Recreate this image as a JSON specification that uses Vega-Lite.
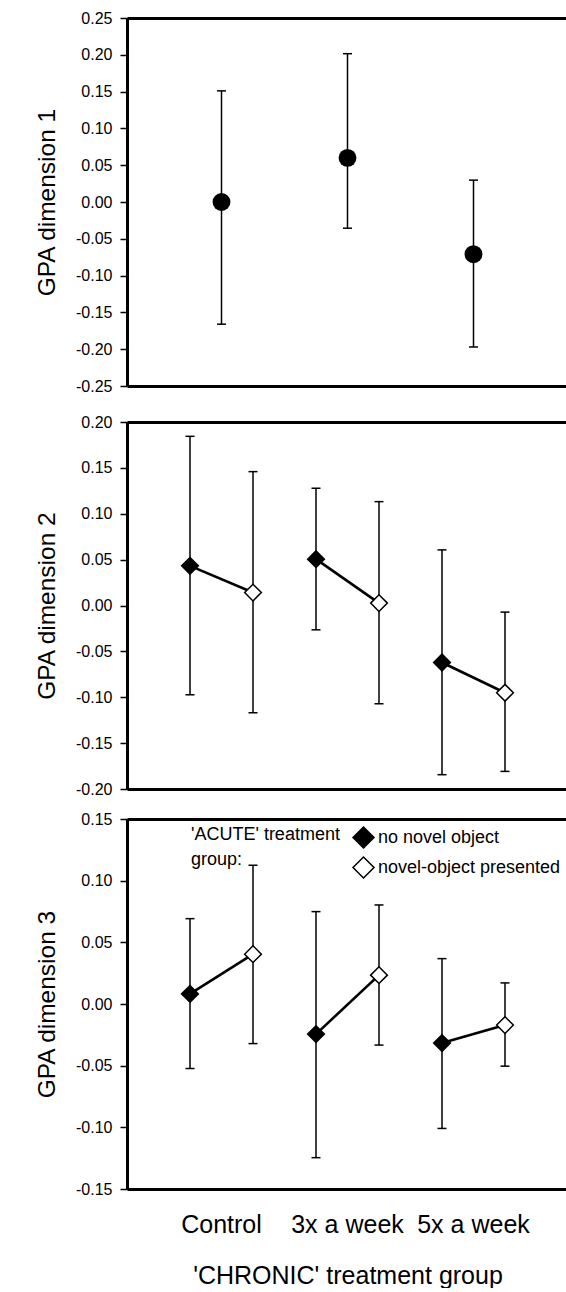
{
  "$schema": "https://vega.github.io/schema/vega-lite/v6.json",
  "padding": {"left": 34, "top": 10, "right": 0, "bottom": 0},
  "bounds": "flush",
  "spacing": 36,
  "config": {
    "font": "Liberation Sans",
    "view": {"stroke": null},
    "axis": {"grid": false, "domainColor": "black", "domainWidth": 3, "tickColor": "black", "labelColor": "black", "titleColor": "black", "labelFont": "Liberation Sans", "titleFont": "Liberation Sans", "titleFontWeight": "normal"},
    "axisX": {"domainWidth": 3, "domainColor": "black"},
    "axisY": {"domainWidth": 3, "domainColor": "black", "tickSize": 7, "tickWidth": 1.5, "labelFontSize": 16, "labelPadding": 8, "titleFontSize": 24.5, "titlePadding": 16}
  },
  "resolve": {"scale": {"fill": "independent"}, "legend": {"fill": "independent"}},
  "datasets": {
    "dim1": [
      {"chronic": "Control", "mean": 0.0, "lo": -0.166, "hi": 0.151},
      {"chronic": "3x a week", "mean": 0.060, "lo": -0.0356, "hi": 0.2015},
      {"chronic": "5x a week", "mean": -0.0709, "lo": -0.197, "hi": 0.0297}
    ],
    "dim2": [
      {"chronic": "Control", "acute": "no novel object", "mean": 0.0432, "lo": -0.0973, "hi": 0.1844},
      {"chronic": "Control", "acute": "novel-object presented", "mean": 0.0141, "lo": -0.1169, "hi": 0.1459},
      {"chronic": "3x a week", "acute": "no novel object", "mean": 0.0505, "lo": -0.0265, "hi": 0.1278},
      {"chronic": "3x a week", "acute": "novel-object presented", "mean": 0.0026, "lo": -0.1071, "hi": 0.1132},
      {"chronic": "5x a week", "acute": "no novel object", "mean": -0.0621, "lo": -0.1844, "hi": 0.0606},
      {"chronic": "5x a week", "acute": "novel-object presented", "mean": -0.0951, "lo": -0.1808, "hi": -0.0072}
    ],
    "dim3": [
      {"chronic": "Control", "acute": "no novel object", "mean": 0.0082, "lo": -0.0523, "hi": 0.0692},
      {"chronic": "Control", "acute": "novel-object presented", "mean": 0.0404, "lo": -0.0321, "hi": 0.1125},
      {"chronic": "3x a week", "acute": "no novel object", "mean": -0.0244, "lo": -0.1246, "hi": 0.0749},
      {"chronic": "3x a week", "acute": "novel-object presented", "mean": 0.0234, "lo": -0.0333, "hi": 0.0803},
      {"chronic": "5x a week", "acute": "no novel object", "mean": -0.0317, "lo": -0.1009, "hi": 0.0368},
      {"chronic": "5x a week", "acute": "novel-object presented", "mean": -0.0171, "lo": -0.0504, "hi": 0.0171}
    ]
  },
  "vconcat": [
    {
      "width": 441,
      "height": 368,
      "data": {"name": "dim1"},
      "resolve": {"axis": {"x": "independent"}},
      "layer": [
        {
          "mark": {"type": "rule", "color": "black", "strokeWidth": 1.5},
          "encoding": {
            "x": {"field": "chronic", "type": "nominal", "sort": null, "scale": {"domain": ["Control", "3x a week", "5x a week"], "paddingInner": 0, "paddingOuter": 0.25}, "axis": {"orient": "bottom", "labels": false, "ticks": false, "title": null, "domainWidth": 3}},
            "y": {"field": "lo", "type": "quantitative", "scale": {"domain": [-0.25, 0.25], "nice": false, "zero": false}, "axis": {"values": [-0.25, -0.2, -0.15, -0.1, -0.05, 0, 0.05, 0.1, 0.15, 0.2, 0.25], "format": ".2f", "labelExpr": "replace(datum.label, '−', '-')", "title": "GPA dimension 1", "domainWidth": 3}},
            "y2": {"field": "hi"}
          }
        },
        {
          "mark": {"type": "tick", "orient": "horizontal", "size": 9, "thickness": 1.5, "color": "black", "opacity": 1},
          "encoding": {
            "x": {"field": "chronic", "type": "nominal", "sort": null, "scale": {"domain": ["Control", "3x a week", "5x a week"], "paddingInner": 0, "paddingOuter": 0.25}, "axis": null},
            "y": {"field": "lo", "type": "quantitative", "scale": {"domain": [-0.25, 0.25], "nice": false, "zero": false}, "axis": {"values": [-0.25, -0.2, -0.15, -0.1, -0.05, 0, 0.05, 0.1, 0.15, 0.2, 0.25], "format": ".2f", "labelExpr": "replace(datum.label, '−', '-')", "title": "GPA dimension 1", "domainWidth": 3}}
          }
        },
        {
          "mark": {"type": "tick", "orient": "horizontal", "size": 9, "thickness": 1.5, "color": "black", "opacity": 1},
          "encoding": {
            "x": {"field": "chronic", "type": "nominal", "sort": null, "scale": {"domain": ["Control", "3x a week", "5x a week"], "paddingInner": 0, "paddingOuter": 0.25}, "axis": null},
            "y": {"field": "hi", "type": "quantitative", "scale": {"domain": [-0.25, 0.25], "nice": false, "zero": false}, "axis": {"values": [-0.25, -0.2, -0.15, -0.1, -0.05, 0, 0.05, 0.1, 0.15, 0.2, 0.25], "format": ".2f", "labelExpr": "replace(datum.label, '−', '-')", "title": "GPA dimension 1", "domainWidth": 3}}
          }
        },
        {
          "mark": {"type": "circle", "size": 320, "color": "black", "opacity": 1},
          "encoding": {
            "x": {"field": "chronic", "type": "nominal", "sort": null, "scale": {"domain": ["Control", "3x a week", "5x a week"], "paddingInner": 0, "paddingOuter": 0.25}, "axis": {"orient": "top", "labels": false, "ticks": false, "title": null, "domainWidth": 3}},
            "y": {"field": "mean", "type": "quantitative", "scale": {"domain": [-0.25, 0.25], "nice": false, "zero": false}, "axis": {"values": [-0.25, -0.2, -0.15, -0.1, -0.05, 0, 0.05, 0.1, 0.15, 0.2, 0.25], "format": ".2f", "labelExpr": "replace(datum.label, '−', '-')", "title": "GPA dimension 1", "domainWidth": 3}}
          }
        }
      ]
    },
    {
      "spacing": 30,
      "bounds": "flush",
      "resolve": {"scale": {"fill": "independent"}, "legend": {"fill": "independent"}},
      "vconcat": [
        {
          "width": 441,
          "height": 367,
          "data": {"name": "dim2"},
          "resolve": {"axis": {"x": "independent"}},
          "layer": [
            {
              "mark": {"type": "rule", "color": "black", "strokeWidth": 1.5},
              "encoding": {
                "x": {"field": "chronic", "type": "nominal", "sort": null, "scale": {"domain": ["Control", "3x a week", "5x a week"], "paddingInner": 0, "paddingOuter": 0.25}, "axis": {"orient": "bottom", "labels": false, "ticks": false, "title": null, "domainWidth": 3}},
                "xOffset": {"field": "acute", "type": "nominal", "sort": null, "scale": {"domain": ["no novel object", "novel-object presented"], "paddingInner": 0, "paddingOuter": 0}},
                "y": {"field": "lo", "type": "quantitative", "scale": {"domain": [-0.2, 0.2], "nice": false, "zero": false}, "axis": {"values": [-0.2, -0.15, -0.1, -0.05, 0, 0.05, 0.1, 0.15, 0.2], "format": ".2f", "labelExpr": "replace(datum.label, '−', '-')", "title": "GPA dimension 2", "domainWidth": 3}},
                "y2": {"field": "hi"}
              }
            },
            {
              "mark": {"type": "tick", "orient": "horizontal", "size": 9, "thickness": 1.5, "color": "black", "opacity": 1},
              "encoding": {
                "x": {"field": "chronic", "type": "nominal", "sort": null, "scale": {"domain": ["Control", "3x a week", "5x a week"], "paddingInner": 0, "paddingOuter": 0.25}, "axis": null},
                "xOffset": {"field": "acute", "type": "nominal", "sort": null, "scale": {"domain": ["no novel object", "novel-object presented"], "paddingInner": 0, "paddingOuter": 0}},
                "y": {"field": "lo", "type": "quantitative", "scale": {"domain": [-0.2, 0.2], "nice": false, "zero": false}, "axis": {"values": [-0.2, -0.15, -0.1, -0.05, 0, 0.05, 0.1, 0.15, 0.2], "format": ".2f", "labelExpr": "replace(datum.label, '−', '-')", "title": "GPA dimension 2", "domainWidth": 3}}
              }
            },
            {
              "mark": {"type": "tick", "orient": "horizontal", "size": 9, "thickness": 1.5, "color": "black", "opacity": 1},
              "encoding": {
                "x": {"field": "chronic", "type": "nominal", "sort": null, "scale": {"domain": ["Control", "3x a week", "5x a week"], "paddingInner": 0, "paddingOuter": 0.25}, "axis": null},
                "xOffset": {"field": "acute", "type": "nominal", "sort": null, "scale": {"domain": ["no novel object", "novel-object presented"], "paddingInner": 0, "paddingOuter": 0}},
                "y": {"field": "hi", "type": "quantitative", "scale": {"domain": [-0.2, 0.2], "nice": false, "zero": false}, "axis": {"values": [-0.2, -0.15, -0.1, -0.05, 0, 0.05, 0.1, 0.15, 0.2], "format": ".2f", "labelExpr": "replace(datum.label, '−', '-')", "title": "GPA dimension 2", "domainWidth": 3}}
              }
            },
            {
              "mark": {"type": "line", "color": "black", "strokeWidth": 2.6},
              "encoding": {
                "x": {"field": "chronic", "type": "nominal", "sort": null, "scale": {"domain": ["Control", "3x a week", "5x a week"], "paddingInner": 0, "paddingOuter": 0.25}, "axis": null},
                "xOffset": {"field": "acute", "type": "nominal", "sort": null, "scale": {"domain": ["no novel object", "novel-object presented"], "paddingInner": 0, "paddingOuter": 0}},
                "y": {"field": "mean", "type": "quantitative", "scale": {"domain": [-0.2, 0.2], "nice": false, "zero": false}, "axis": {"values": [-0.2, -0.15, -0.1, -0.05, 0, 0.05, 0.1, 0.15, 0.2], "format": ".2f", "labelExpr": "replace(datum.label, '−', '-')", "title": "GPA dimension 2", "domainWidth": 3}},
                "detail": {"field": "chronic", "type": "nominal"}
              }
            },
            {
              "mark": {"type": "point", "shape": "diamond", "filled": true, "stroke": "black", "strokeWidth": 1.5, "size": 280, "opacity": 1, "fillOpacity": 1},
              "encoding": {
                "x": {"field": "chronic", "type": "nominal", "sort": null, "scale": {"domain": ["Control", "3x a week", "5x a week"], "paddingInner": 0, "paddingOuter": 0.25}, "axis": {"orient": "top", "labels": false, "ticks": false, "title": null, "domainWidth": 3}},
                "xOffset": {"field": "acute", "type": "nominal", "sort": null, "scale": {"domain": ["no novel object", "novel-object presented"], "paddingInner": 0, "paddingOuter": 0}},
                "y": {"field": "mean", "type": "quantitative", "scale": {"domain": [-0.2, 0.2], "nice": false, "zero": false}, "axis": {"values": [-0.2, -0.15, -0.1, -0.05, 0, 0.05, 0.1, 0.15, 0.2], "format": ".2f", "labelExpr": "replace(datum.label, '−', '-')", "title": "GPA dimension 2", "domainWidth": 3}},
                "fill": {"field": "acute", "type": "nominal", "scale": {"domain": ["no novel object", "novel-object presented"], "range": ["black", "white"]}, "legend": null}
              }
            }
          ]
        },
        {
          "width": 441,
          "height": 370,
          "data": {"name": "dim3"},
          "resolve": {"axis": {"x": "independent"}},
          "layer": [
            {
              "mark": {"type": "rule", "color": "black", "strokeWidth": 1.5},
              "encoding": {
                "x": {"field": "chronic", "type": "nominal", "sort": null, "scale": {"domain": ["Control", "3x a week", "5x a week"], "paddingInner": 0, "paddingOuter": 0.25}, "axis": {"orient": "bottom", "labels": true, "ticks": false, "labelAngle": 0, "labelFontSize": 25, "labelPadding": 23, "title": "'CHRONIC' treatment group", "titleFontSize": 25, "titlePadding": 26, "domainWidth": 3}},
                "xOffset": {"field": "acute", "type": "nominal", "sort": null, "scale": {"domain": ["no novel object", "novel-object presented"], "paddingInner": 0, "paddingOuter": 0}},
                "y": {"field": "lo", "type": "quantitative", "scale": {"domain": [-0.15, 0.15], "nice": false, "zero": false}, "axis": {"values": [-0.15, -0.1, -0.05, 0, 0.05, 0.1, 0.15], "format": ".2f", "labelExpr": "replace(datum.label, '−', '-')", "title": "GPA dimension 3", "domainWidth": 3}},
                "y2": {"field": "hi"}
              }
            },
            {
              "mark": {"type": "tick", "orient": "horizontal", "size": 9, "thickness": 1.5, "color": "black", "opacity": 1},
              "encoding": {
                "x": {"field": "chronic", "type": "nominal", "sort": null, "scale": {"domain": ["Control", "3x a week", "5x a week"], "paddingInner": 0, "paddingOuter": 0.25}, "axis": null},
                "xOffset": {"field": "acute", "type": "nominal", "sort": null, "scale": {"domain": ["no novel object", "novel-object presented"], "paddingInner": 0, "paddingOuter": 0}},
                "y": {"field": "lo", "type": "quantitative", "scale": {"domain": [-0.15, 0.15], "nice": false, "zero": false}, "axis": {"values": [-0.15, -0.1, -0.05, 0, 0.05, 0.1, 0.15], "format": ".2f", "labelExpr": "replace(datum.label, '−', '-')", "title": "GPA dimension 3", "domainWidth": 3}}
              }
            },
            {
              "mark": {"type": "tick", "orient": "horizontal", "size": 9, "thickness": 1.5, "color": "black", "opacity": 1},
              "encoding": {
                "x": {"field": "chronic", "type": "nominal", "sort": null, "scale": {"domain": ["Control", "3x a week", "5x a week"], "paddingInner": 0, "paddingOuter": 0.25}, "axis": null},
                "xOffset": {"field": "acute", "type": "nominal", "sort": null, "scale": {"domain": ["no novel object", "novel-object presented"], "paddingInner": 0, "paddingOuter": 0}},
                "y": {"field": "hi", "type": "quantitative", "scale": {"domain": [-0.15, 0.15], "nice": false, "zero": false}, "axis": {"values": [-0.15, -0.1, -0.05, 0, 0.05, 0.1, 0.15], "format": ".2f", "labelExpr": "replace(datum.label, '−', '-')", "title": "GPA dimension 3", "domainWidth": 3}}
              }
            },
            {
              "mark": {"type": "line", "color": "black", "strokeWidth": 2.6},
              "encoding": {
                "x": {"field": "chronic", "type": "nominal", "sort": null, "scale": {"domain": ["Control", "3x a week", "5x a week"], "paddingInner": 0, "paddingOuter": 0.25}, "axis": null},
                "xOffset": {"field": "acute", "type": "nominal", "sort": null, "scale": {"domain": ["no novel object", "novel-object presented"], "paddingInner": 0, "paddingOuter": 0}},
                "y": {"field": "mean", "type": "quantitative", "scale": {"domain": [-0.15, 0.15], "nice": false, "zero": false}, "axis": {"values": [-0.15, -0.1, -0.05, 0, 0.05, 0.1, 0.15], "format": ".2f", "labelExpr": "replace(datum.label, '−', '-')", "title": "GPA dimension 3", "domainWidth": 3}},
                "detail": {"field": "chronic", "type": "nominal"}
              }
            },
            {
              "mark": {"type": "point", "shape": "diamond", "filled": true, "stroke": "black", "strokeWidth": 1.5, "size": 280, "opacity": 1, "fillOpacity": 1},
              "encoding": {
                "x": {"field": "chronic", "type": "nominal", "sort": null, "scale": {"domain": ["Control", "3x a week", "5x a week"], "paddingInner": 0, "paddingOuter": 0.25}, "axis": {"orient": "top", "labels": false, "ticks": false, "title": null, "domainWidth": 3}},
                "xOffset": {"field": "acute", "type": "nominal", "sort": null, "scale": {"domain": ["no novel object", "novel-object presented"], "paddingInner": 0, "paddingOuter": 0}},
                "y": {"field": "mean", "type": "quantitative", "scale": {"domain": [-0.15, 0.15], "nice": false, "zero": false}, "axis": {"values": [-0.15, -0.1, -0.05, 0, 0.05, 0.1, 0.15], "format": ".2f", "labelExpr": "replace(datum.label, '−', '-')", "title": "GPA dimension 3", "domainWidth": 3}},
                "fill": {"field": "acute", "type": "nominal", "scale": {"domain": ["no novel object", "novel-object presented"], "range": ["black", "white"]}, "legend": {"orient": "top-right", "offset": 4, "padding": 3, "title": ["'ACUTE' treatment", "group:"], "titleOrient": "left", "titleAlign": "left", "titleAnchor": "start", "titleBaseline": "top", "titleLineHeight": 25, "titleFontSize": 18, "titleFontWeight": "normal", "titleFont": "Liberation Sans", "titleColor": "black", "titlePadding": 12, "titleLimit": 0, "labelFontSize": 18, "labelFont": "Liberation Sans", "labelColor": "black", "labelOffset": 3, "labelLimit": 0, "symbolType": "diamond", "symbolSize": 440, "symbolStrokeColor": "black", "symbolStrokeWidth": 1.5, "symbolOpacity": 1, "rowPadding": 3}}
              }
            }
          ]
        }
      ]
    }
  ]
}
